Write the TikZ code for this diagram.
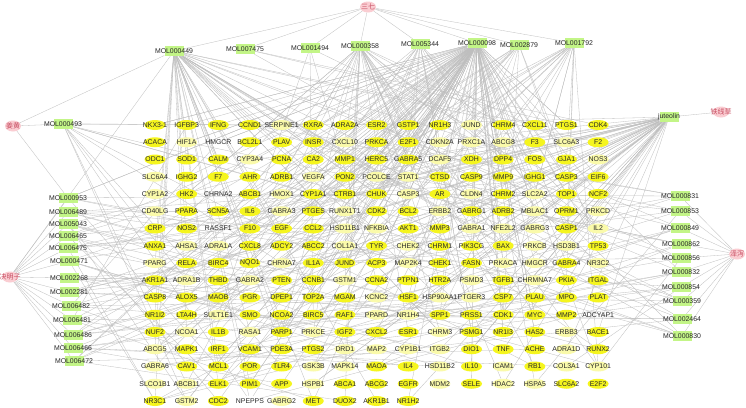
\documentclass[tikz,border=0pt]{standalone}
\usepackage{fontspec}
\setmainfont{Liberation Sans}
\newfontfamily\cjk{Noto Sans CJK SC}
\usetikzlibrary{shapes.geometric}
\pgfdeclarelayer{back}
\pgfdeclarelayer{bg}
\pgfsetlayers{back,bg,main}
\definecolor{ty}{RGB}{245,245,30}
\definecolor{tp}{RGB}{250,250,170}
\definecolor{molg}{RGB}{195,245,135}
\definecolor{herbp}{RGB}{250,205,210}
\definecolor{herbt}{RGB}{200,80,100}
\definecolor{txt}{RGB}{40,40,40}
\definecolor{edgec}{RGB}{190,190,190}
\newcommand\molnode[3]{\node[mol] (#1) at (#2) {}; \node[lbl] at (#1) {#3};}
\newcommand\herbnode[3]{\node[herb] (#1) at (#2) {}; \node[hlbl] at (#1) {#3};}
\newcommand\randlinks[2]{%
  \foreach \k in {1,...,#2}{%
    \pgfmathtruncatemacro\rr{random(1,17)}%
    \pgfmathtruncatemacro\cc{random(1,15)}%
    \ifnum\rr=17 \pgfmathtruncatemacro\cc{1+mod(\cc-1,9)}\fi
    \draw[lnk] (#1) -- (t-\rr-\cc);
  }}
\begin{document}
\begin{tikzpicture}[x=1pt,y=-1pt,
  tgy/.style={ellipse,fill=ty,minimum width=21pt,minimum height=10pt,inner sep=0pt},
  tgp/.style={ellipse,fill=tp,minimum width=21pt,minimum height=10pt,inner sep=0pt},
  tgn/.style={ellipse,minimum width=21pt,minimum height=10pt,inner sep=0pt},
  lbl/.style={font=\fontsize{6.9}{7}\selectfont,text=txt,inner sep=0pt},
  mol/.style={rectangle,fill=molg,minimum width=19pt,minimum height=10pt,inner sep=0pt},
  herb/.style={ellipse,fill=herbp,minimum width=16pt,minimum height=11pt,inner sep=0pt},
  hlbl/.style={font=\cjk\fontsize{7}{8}\selectfont,text=herbt,inner sep=0pt},
  lnk/.style={draw=edgec,line width=0.3pt}]
\begin{pgfonlayer}{back}
\fill[white] (0,0) rectangle (746,407);
\end{pgfonlayer}
\useasboundingbox (0,0) rectangle (746,407);
% targets
\foreach \lst [count=\r] in {
 {NKX3-1/y,IGFBP3/y,IFNG/y,CCND1/y,SERPINE1/p,RXRA/y,ADRA2A/y,ESR2/y,GSTP1/y,NR1H3/y,JUND/p,CHRM4/y,CXCL11/y,PTGS1/y,CDK4/y},
 {ACACA/y,HIF1A/p,HMGCR/n,BCL2L1/y,PLAV/y,INSR/y,CXCL10/p,PRKCA/y,E2F1/y,CDKN2A/p,PRXC1A/p,ABCG8/p,F3/y,SLC6A3/p,F2/y},
 {ODC1/y,SOD1/y,CALM/y,CYP3A4/p,PCNA/y,CA2/y,MMP1/y,HERC5/y,GABRA5/y,DCAF5/p,XDH/y,DPP4/y,FOS/y,GJA1/y,NOS3/p},
 {SLC6A4/p,IGHG2/y,F7/y,AHR/y,ADRB1/y,VEGFA/p,PON2/y,PCOLCE/p,STAT1/p,CTSD/y,CASP9/y,MMP9/y,IGHG1/y,CASP3/y,EIF6/y},
 {CYP1A2/p,HK2/y,CHRNA2/n,ABCB1/y,HMOX1/p,CYP1A1/y,CTRB1/y,CHUK/y,CASP3/p,AR/y,CLDN4/p,CHRM2/y,SLC2A2/p,TOP1/y,NCF2/y},
 {CD40LG/p,PPARA/y,SCN5A/y,IL6/y,GABRA3/p,PTGES/y,RUNX1T1/p,CDK2/y,BCL2/y,ERBB2/p,GABRG1/y,ADRB2/y,MBLAC1/p,OPRM1/y,PRKCD/p},
 {CRP/y,NOS2/y,RASSF1/n,F10/y,EGF/y,CCL2/y,HSD11B1/p,NFKBIA/p,AKT1/y,MMP3/y,GABRA1/p,NFE2L2/p,GABRG3/p,CASP1/y,IL2/p},
 {ANXA1/y,AHSA1/p,ADRA1A/p,CXCL8/y,ADCY2/y,ABCC2/y,COL1A1/p,TYR/y,CHEK2/p,CHRM1/y,PIK3CG/y,BAX/y,PRKCB/p,HSD3B1/p,TP53/y},
 {PPARG/p,RELA/y,BIRC4/y,NQO1/y,CHRNA7/p,IL1A/y,JUND/y,ACP3/y,MAP2K4/p,CHEK1/y,FASN/y,PRKACA/p,HMGCR/p,GABRA4/y,NR3C2/p},
 {AKR1A1/y,ADRA1B/p,THBD/y,GABRA2/p,PTEN/y,CCNB1/y,GSTM1/p,CCNA2/y,PTPN1/y,HTR2A/y,PSMD3/p,TGFB1/y,CHRMNA7/p,PKIA/y,ITGAL/y},
 {CASP8/y,ALOX5/y,MAOB/y,PGR/y,DPEP1/y,TOP2A/y,MGAM/y,KCNC2/p,HSF1/y,HSP90AA1/p,PTGER3/p,CSP7/y,PLAU/y,MPO/y,PLAT/y},
 {NR1I2/y,LTA4H/y,SULT1E1/p,SMO/y,NCOA2/y,BIRC5/y,RAF1/y,PPARD/p,NR1H4/p,SPP1/y,PRSS1/y,CDK1/y,MYC/y,MMP2/y,ADCYAP1/n},
 {NUF2/y,NCOA1/p,IL1B/y,RASA1/p,PARP1/y,PRKCE/p,IGF2/y,CXCL2/y,ESR1/y,CHRM3/p,PSMG1/y,NR1I3/y,HAS2/y,ERBB3/p,BACE1/y},
 {ABCG5/p,MAPK1/y,IRF1/y,VCAM1/y,PDE3A/y,PTGS2/y,DRD1/p,MAP2/p,CYP1B1/p,ITGB2/p,DIO1/y,TNF/y,ACHE/y,ADRA1D/p,RUNX2/y},
 {GABRA6/p,CAV1/y,MCL1/y,POR/y,TLR4/y,GSK3B/p,MAPK14/p,MAOA/y,IL4/y,HSD11B2/p,IL10/y,ICAM1/p,RB1/y,COL3A1/p,CYP101/p},
 {SLCO1B1/p,ABCB11/p,ELK1/y,PIM1/y,APP/y,HSPB1/p,ABCA1/y,ABCG2/y,EGFR/y,MDM2/p,SELE/y,HDAC2/p,HSPA5/p,SLC6A2/y,E2F2/y},
 {NR3C1/y,GSTM2/p,CDC2/y,NPEPPS/n,GABRG2/p,MET/y,DUOX2/y,AKR1B1/y,NR1H2/y}}{
  \foreach \nm/\st [count=\c] in \lst {
    \node[tg\st] (t-\r-\c) at ({155+31.65*(\c-1)},{125+17.25*(\r-1)}) {};
    \node[lbl] at (t-\r-\c) {\nm};
  }
}
% herbs
\herbnode{h1}{368,7}{三七}
\herbnode{h2}{13,126}{姜黄}
\herbnode{h3}{721,112}{铁线草}
\herbnode{h4}{10,277}{决明子}
\herbnode{h5}{737,254}{泽泻}
% top compounds
\molnode{m449}{174,51}{MOL000449}
\molnode{m7475}{245,49}{MOL007475}
\molnode{m1494}{310,48}{MOL001494}
\molnode{m358}{360,46}{MOL000358}
\molnode{m5344}{420,44}{MOL005344}
\molnode{m098}{477,43}{MOL000098}
\molnode{m2879}{519,45}{MOL002879}
\molnode{m1792}{574,43}{MOL001792}
\molnode{m493}{63,124}{MOL000493}
\molnode{jut}{669,117}{juteolin}
% left compounds
\molnode{l1}{68,198}{MOL000953}
\molnode{l2}{68,212}{MOL006489}
\molnode{l3}{68,224}{MOL005043}
\molnode{l4}{68,236}{MOL006465}
\molnode{l5}{68,248}{MOL006475}
\molnode{l6}{69,261}{MOL000471}
\molnode{l7}{69,278}{MOL002268}
\molnode{l8}{69,292}{MOL002281}
\molnode{l9}{71,306}{MOL006482}
\molnode{l10}{72,320}{MOL006481}
\molnode{l11}{73,335}{MOL006486}
\molnode{l12}{73,348}{MOL006466}
\molnode{l13}{74,361}{MOL006472}
% right compounds
\molnode{r1}{680,196}{MOL000831}
\molnode{r2}{680,211}{MOL000853}
\molnode{r3}{680,228}{MOL000849}
\molnode{r4}{681,244}{MOL000862}
\molnode{r5}{681,258}{MOL000856}
\molnode{r6}{681,272}{MOL000832}
\molnode{r7}{681,287}{MOL000854}
\molnode{r8}{682,301}{MOL000359}
\molnode{r9}{682,319}{MOL002464}
\molnode{r10}{682,336}{MOL000830}
\begin{pgfonlayer}{bg}
\pgfmathsetseed{7}
\foreach \m in {m449,m7475,m1494,m358,m5344,m098,m2879,m1792} \draw[lnk] (h1) -- (\m);
\foreach \m in {m493,m449,l1} \draw[lnk] (h2) -- (\m);
\draw[lnk] (h3) -- (jut);
\foreach \m in {l1,l2,l3,l4,l5,l6,l7,l8,l9,l10,l11,l12,l13,m449} \draw[lnk] (h4) -- (\m);
\foreach \m in {r1,r2,r3,r4,r5,r6,r7,r8,r9,r10} \draw[lnk] (h5) -- (\m);
\randlinks{m449}{45}
\randlinks{m7475}{3}
\randlinks{m1494}{4}
\randlinks{m358}{32}
\randlinks{m5344}{16}
\randlinks{m098}{110}
\randlinks{m2879}{12}
\randlinks{m1792}{18}
\randlinks{m493}{12}
\randlinks{jut}{50}
\foreach \m in {l1,l2,l3,l4,l5,l6,l7,l8,l9,l10,l11,l12,l13} {\randlinks{\m}{6}}
\foreach \m in {r1,r2,r3,r4,r5,r6,r7,r8,r9,r10} {\randlinks{\m}{5}}
\end{pgfonlayer}
\end{tikzpicture}
\end{document}
